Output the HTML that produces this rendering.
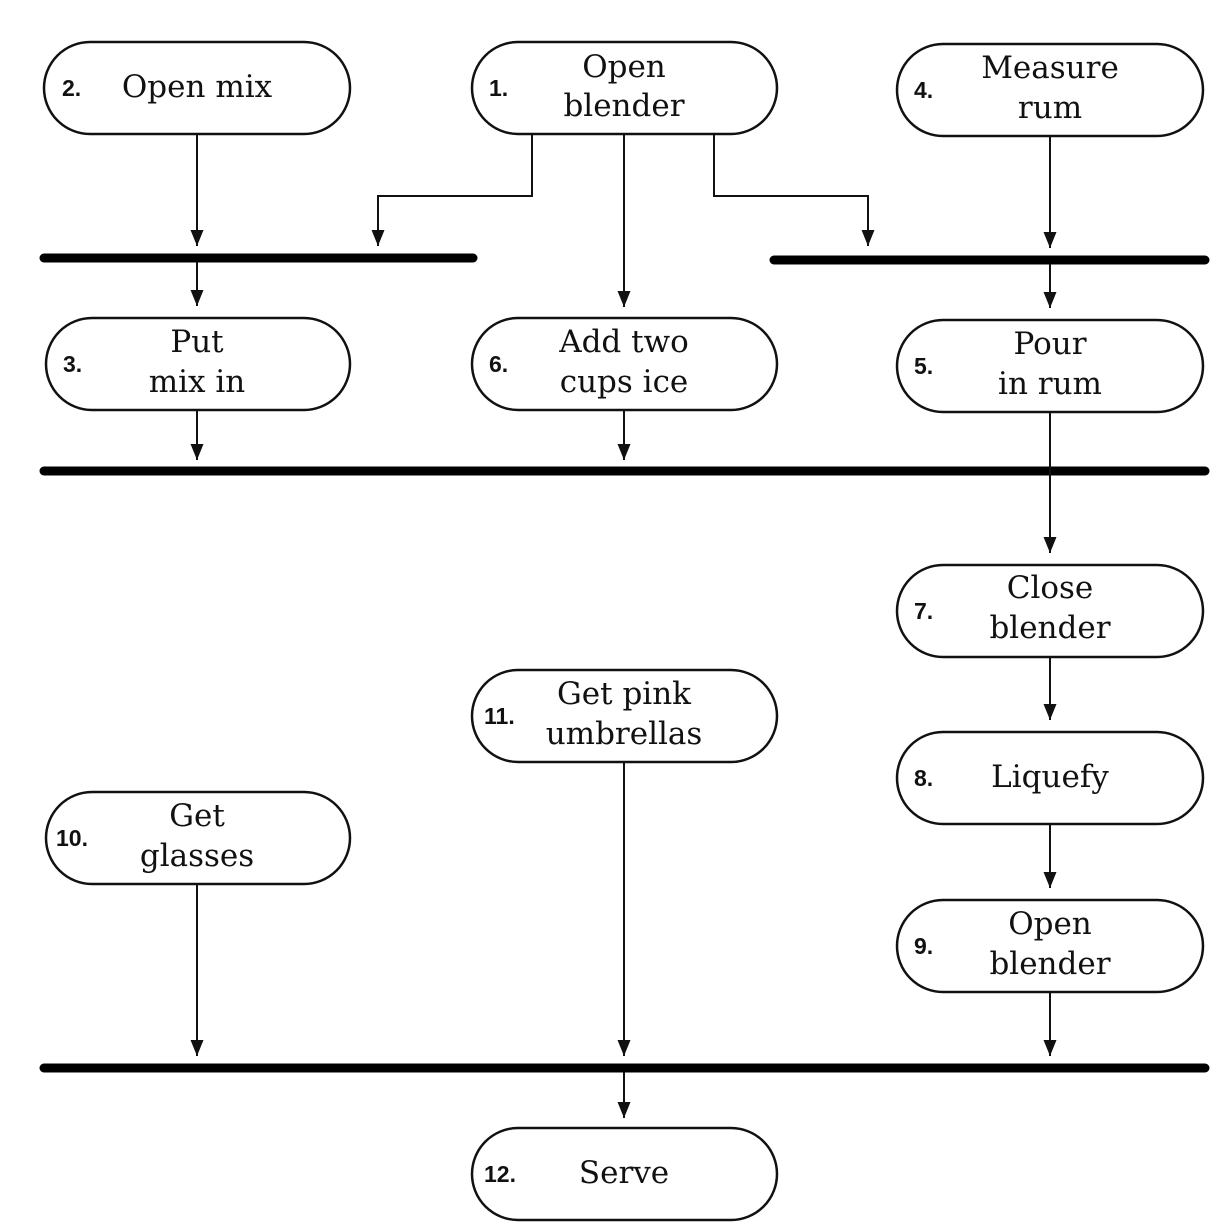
<!DOCTYPE html>
<html><head><meta charset="utf-8"><style>
html,body{margin:0;padding:0;background:#fff;}
svg{display:block}
.n{font-family:"Liberation Sans",sans-serif;font-weight:bold;font-size:23px;fill:#111}
.t{font-family:"DejaVu Serif",serif;font-size:31px;fill:#111;text-anchor:middle}
</style></head><body>
<svg width="1230" height="1232" viewBox="0 0 1230 1232" xmlns="http://www.w3.org/2000/svg">
<defs><marker id="a" viewBox="0 0 10 10" refX="10" refY="5" markerWidth="16" markerHeight="13" markerUnits="userSpaceOnUse" orient="auto" preserveAspectRatio="none"><path d="M0,0 L10,5 L0,10 z" fill="#111"/></marker></defs>
<g fill="none" stroke="#111" stroke-width="2.5">
<rect x="44" y="42" width="306" height="92" rx="46"/>
<rect x="472" y="42" width="305" height="92" rx="46"/>
<rect x="897" y="44" width="306" height="92" rx="46"/>
<rect x="46" y="318" width="304" height="92" rx="46"/>
<rect x="472" y="318" width="305" height="92" rx="46"/>
<rect x="897" y="320" width="306" height="92" rx="46"/>
<rect x="897" y="565" width="306" height="92" rx="46"/>
<rect x="897" y="732" width="306" height="92" rx="46"/>
<rect x="897" y="900" width="306" height="92" rx="46"/>
<rect x="472" y="670" width="305" height="92" rx="46"/>
<rect x="46" y="792" width="304" height="92" rx="46"/>
<rect x="472" y="1128" width="305" height="92" rx="46"/>
</g>
<g stroke="#000" stroke-width="9" stroke-linecap="round">
<line x1="44" y1="258" x2="473" y2="258"/>
<line x1="774" y1="260" x2="1205" y2="260"/>
<line x1="44" y1="471" x2="1205" y2="471"/>
<line x1="44" y1="1068" x2="1205" y2="1068"/>
</g>
<g fill="none" stroke="#111" stroke-width="2" marker-end="url(#a)">
<path d="M197 134V246"/>
<path d="M532 134V196H378V246"/>
<path d="M624 134V307"/>
<path d="M714 134V196H868V246"/>
<path d="M1050 136V248"/>
<path d="M197 262V306"/>
<path d="M1050 264V308"/>
<path d="M197 410V460"/>
<path d="M624 410V460"/>
<path d="M1050 412V553"/>
<path d="M1050 657V720"/>
<path d="M1050 824V888"/>
<path d="M1050 992V1056"/>
<path d="M624 762V1056"/>
<path d="M197 884V1056"/>
<path d="M624 1072V1118"/>
</g>
<text class="n" x="62" y="96">2.</text><text class="t" x="197" y="97">Open mix</text>
<text class="n" x="489" y="96">1.</text><text class="t" x="624" y="77">Open</text><text class="t" x="624" y="116">blender</text>
<text class="n" x="914" y="98">4.</text><text class="t" x="1050" y="78">Measure</text><text class="t" x="1050" y="118">rum</text>
<text class="n" x="63" y="372">3.</text><text class="t" x="197" y="352">Put</text><text class="t" x="197" y="392">mix in</text>
<text class="n" x="489" y="372">6.</text><text class="t" x="624" y="352">Add two</text><text class="t" x="624" y="392">cups ice</text>
<text class="n" x="914" y="374">5.</text><text class="t" x="1050" y="354">Pour</text><text class="t" x="1050" y="394">in rum</text>
<text class="n" x="914" y="619">7.</text><text class="t" x="1050" y="598">Close</text><text class="t" x="1050" y="638">blender</text>
<text class="n" x="914" y="786">8.</text><text class="t" x="1050" y="787">Liquefy</text>
<text class="n" x="914" y="954">9.</text><text class="t" x="1050" y="934">Open</text><text class="t" x="1050" y="974">blender</text>
<text class="n" x="484" y="724">11.</text><text class="t" x="624" y="704">Get pink</text><text class="t" x="624" y="744">umbrellas</text>
<text class="n" x="56" y="846">10.</text><text class="t" x="197" y="826">Get</text><text class="t" x="197" y="866">glasses</text>
<text class="n" x="484" y="1182">12.</text><text class="t" x="624" y="1183">Serve</text>
</svg>
</body></html>
